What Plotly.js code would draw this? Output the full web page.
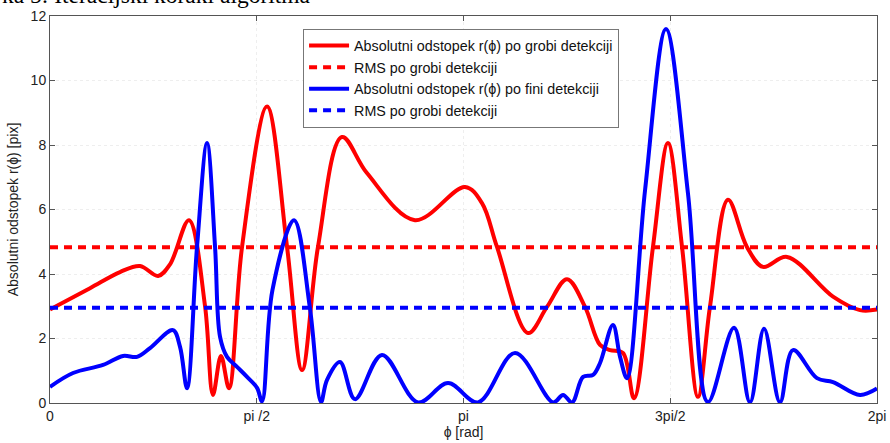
<!DOCTYPE html>
<html>
<head>
<meta charset="utf-8">
<script src="https://cdn.plot.ly/plotly-3.0.1.min.js"></script>
<style>html,body{margin:0;padding:0;background:#fff}#chart{width:890px;height:443px}</style>
</head>
<body>
<div id="chart"></div>
<script>
// Red: absolute deviation, coarse detection (phi in rad)
const redPhi = [0, 0.304, 0.532, 0.684, 0.821, 0.912, 1.056, 1.178, 1.238, 1.299, 1.360, 1.459, 1.649, 1.801, 1.915, 2.036, 2.218, 2.408, 2.773, 3.153, 3.282, 3.396, 3.632, 3.776, 3.928, 4.065, 4.179, 4.255, 4.353, 4.437, 4.581, 4.695, 4.802, 4.923, 5.014, 5.151, 5.295, 5.417, 5.599, 5.949, 6.154, 6.283];
const redVal = [2.9, 3.56, 4.06, 4.25, 3.94, 4.3, 5.67, 3.0, 0.25, 1.46, 0.46, 4.84, 9.19, 4.84, 1.02, 4.84, 8.25, 7.13, 5.67, 6.7, 6.2, 4.84, 2.17, 2.98, 3.84, 2.98, 1.8, 1.64, 1.55, 0.15, 4.84, 8.06, 4.84, 0.19, 2.98, 6.3, 4.84, 4.22, 4.53, 3.3, 2.88, 2.9];
// Blue: absolute deviation, fine detection
const bluePhi = [0, 0.175, 0.403, 0.555, 0.661, 0.760, 0.934, 0.988, 1.041, 1.117, 1.193, 1.254, 1.292, 1.345, 1.421, 1.497, 1.573, 1.611, 1.690, 1.854, 1.975, 2.059, 2.104, 2.203, 2.317, 2.522, 2.796, 3.024, 3.252, 3.533, 3.822, 3.898, 3.966, 4.050, 4.126, 4.179, 4.277, 4.331, 4.384, 4.521, 4.680, 4.847, 4.999, 5.197, 5.318, 5.425, 5.546, 5.645, 5.827, 5.949, 6.154, 6.283];
const blueVal = [0.5, 0.93, 1.18, 1.46, 1.43, 1.7, 2.26, 1.74, 0.46, 4.84, 8.06, 4.84, 2.05, 1.43, 1.12, 0.81, 0.47, 0.05, 3.5, 5.67, 2.94, 0.03, 0.71, 1.27, 0.12, 1.49, 0.02, 0.62, 0.02, 1.55, 0.02, 0.25, 0.02, 0.81, 0.87, 1.24, 2.42, 1.43, 0.77, 6.6, 11.6, 6.5, 0.03, 2.33, 0.02, 2.3, 0.02, 1.64, 0.77, 0.65, 0.25, 0.45];
const rmsCoarse = 4.83;
const rmsFine = 2.95;
const xTickVals = [0, Math.PI / 2, Math.PI, 3 * Math.PI / 2, 2 * Math.PI];
const xTickText = ['0', 'pi /2', 'pi', '3pi/2', '2pi'];
const yTickVals = [0, 2, 4, 6, 8, 10, 12];
const legendNames = ['Absolutni odstopek r(\u03d5) po grobi detekciji', 'RMS po grobi detekciji', 'Absolutni odstopek r(\u03d5) po fini detekciji', 'RMS po grobi detekciji'];

const xEnds = [0, 2 * Math.PI];
const traces = [
  {x: redPhi, y: redVal, name: legendNames[0], mode: 'lines', line: {color: '#ff0000', width: 4, shape: 'spline', smoothing: 1}},
  {x: xEnds, y: [rmsCoarse, rmsCoarse], name: legendNames[1], mode: 'lines', line: {color: '#ff0000', width: 4, dash: '8px,6px'}},
  {x: bluePhi, y: blueVal, name: legendNames[2], mode: 'lines', line: {color: '#0000ff', width: 4, shape: 'spline', smoothing: 1}},
  {x: xEnds, y: [rmsFine, rmsFine], name: legendNames[3], mode: 'lines', line: {color: '#0000ff', width: 4, dash: '8px,6px'}}
];
const axisCommon = {
  showline: true, linecolor: '#555', linewidth: 1, mirror: 'ticks',
  ticks: 'inside', ticklen: 5, tickcolor: '#555', zeroline: false,
  showgrid: true, gridcolor: '#eeeeee', griddash: 'dot',
  tickfont: {family: 'Liberation Sans, Arial, sans-serif', size: 14, color: '#222'}
};
const layout = {
  width: 890, height: 443,
  margin: {l: 50, r: 13, t: 16, b: 40},
  paper_bgcolor: '#fff', plot_bgcolor: '#fff',
  showlegend: true,
  legend: {x: 0.306, y: 0.967, xanchor: 'left', yanchor: 'top', bgcolor: '#fff', bordercolor: '#777', borderwidth: 1,
    font: {family: 'Liberation Sans, Arial, sans-serif', size: 14.3, color: '#111'}, tracegroupgap: 0, itemwidth: 40},
  xaxis: Object.assign({}, axisCommon, {range: [0, 2 * Math.PI], tickmode: 'array', tickvals: xTickVals, ticktext: xTickText,
    title: {text: '\u03d5 [rad]', standoff: 4, font: {family: 'Liberation Sans, Arial, sans-serif', size: 14, color: '#222'}}}),
  yaxis: Object.assign({}, axisCommon, {range: [0, 12], tickmode: 'array', tickvals: yTickVals,
    title: {text: 'Absolutni odstopek r(\u03d5) [pix]', standoff: 8, font: {family: 'Liberation Sans, Arial, sans-serif', size: 14, color: '#222'}}}),
  annotations: [{
    text: 'ka 5: Iteracijski koraki algoritma', xref: 'paper', yref: 'paper', x: -0.0605, y: 1.015,
    xanchor: 'left', yanchor: 'bottom', showarrow: false,
    font: {family: 'Liberation Serif, Times New Roman, serif', size: 23.5, color: '#000'}
  }]
};
Plotly.newPlot('chart', traces, layout, {staticPlot: true, displayModeBar: false});
</script>
</body>
</html>
